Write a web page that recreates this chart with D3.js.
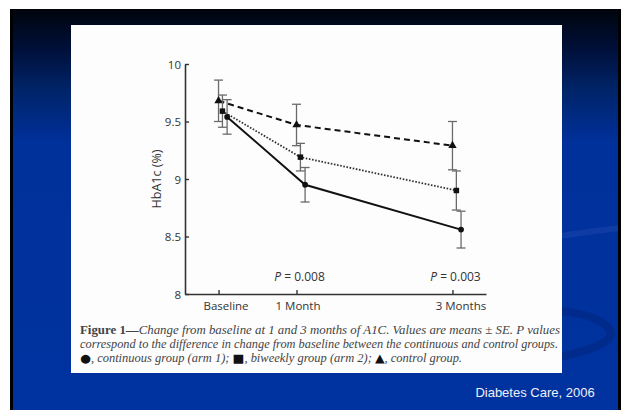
<!DOCTYPE html>
<html>
<head>
<meta charset="utf-8">
<script src="https://cdn.jsdelivr.net/npm/d3@7"></script>
<style>
  body { margin: 0; background: #fff; }
  svg { display: block; }
</style>
</head>
<body>
<div id="slide"></div>
<script>
// Chart values
var months = [0, 1, 3];
var monthLabels = ["Baseline", "1 Month", "3 Months"];
var yTicks = [8, 8.5, 9, 9.5, 10];
var yTickLabels = ["8", "8.5", "9", "9.5", "10"];

var controlMean = [9.68, 9.47, 9.29];
var controlSE = [0.18, 0.18, 0.21];
var biweeklyMean = [9.59, 9.19, 8.90];
var biweeklySE = [0.14, 0.12, 0.17];
var continuousMean = [9.54, 8.95, 8.56];
var continuousSE = [0.15, 0.15, 0.16];

var pMonths = [1, 3];
var pValues = ["0.008", "0.003"];

// Set the dimensions of the slide
var w = 621, h = 410;

var svg = d3.select("#slide")
  .append("svg")
    .attr("width", w)
    .attr("height", h);

/* ---------------------------------------- Slide background ---------------------------------------- */
var defs = svg.append("defs");
var grad = defs.append("linearGradient")
    .attr("id", "bg")
    .attr("x1", 0).attr("y1", 0).attr("x2", 0).attr("y2", 1);
grad.append("stop").attr("offset", "0%").attr("stop-color", "#00040c");
grad.append("stop").attr("offset", "10%").attr("stop-color", "#00103a");
grad.append("stop").attr("offset", "20%").attr("stop-color", "#002468");
grad.append("stop").attr("offset", "33%").attr("stop-color", "#00309a");
grad.append("stop").attr("offset", "100%").attr("stop-color", "#0033a0");

svg.append("rect")
    .attr("x", 10).attr("y", 9)
    .attr("width", w - 10).attr("height", h - 9)
    .attr("fill", "url(#bg)");

// faint swooshes at the lower right
svg.append("path")
    .attr("d", "M330,330 C420,250 560,235 621,228")
    .attr("fill", "none").attr("stroke", "#3a5cc0").attr("stroke-width", 6).attr("opacity", 0.25);
svg.append("path")
    .attr("d", "M360,360 C470,300 590,300 610,330 C620,345 560,360 520,362")
    .attr("fill", "none").attr("stroke", "#00247a").attr("stroke-width", 8).attr("opacity", 0.5);

// black edges of the slide
svg.append("rect").attr("x", 10).attr("y", 9).attr("width", 3).attr("height", h - 9).attr("fill", "#000");
svg.append("rect").attr("x", 618).attr("y", 9).attr("width", 3).attr("height", h - 9).attr("fill", "#000");

// white figure panel
svg.append("rect")
    .attr("x", 71).attr("y", 25)
    .attr("width", 491).attr("height", 348)
    .attr("fill", "#fdfdfd");

/* ---------------------------------------- Line chart ---------------------------------------- */
var xScale = d3.scaleLinear().domain([-0.43, 3.43]).range([185, 486]);
var yScale = d3.scaleLinear().domain([8, 10]).range([294, 64]);

var chart = svg.append("g");

// Define X, Y axis
var yAxis = d3.axisLeft(yScale)
    .tickValues(yTicks)
    .tickFormat(function(d, i) { return yTickLabels[i]; })
    .tickSizeInner(-4).tickSizeOuter(0).tickPadding(4);
var xAxis = d3.axisBottom(xScale)
    .tickValues(months)
    .tickFormat(function(d, i) { return monthLabels[i]; })
    .tickSizeInner(-4).tickSizeOuter(0).tickPadding(8);

var gy = chart.append("g").attr("transform", "translate(" + xScale.range()[0] + ",0)").call(yAxis);
var gx = chart.append("g").attr("transform", "translate(0," + yScale(8) + ")").call(xAxis);

[gx, gy].forEach(function(g) {
  g.select(".domain").attr("stroke", "#333").attr("stroke-width", 1.6);
  g.selectAll(".tick line").attr("stroke", "#333").attr("stroke-width", 1.4);
  g.selectAll(".tick text")
    .attr("fill", "#333")
    .style("font-family", "'Open Sans', sans-serif")
    .style("font-size", "11.5px");
});
gy.selectAll(".tick text").attr("dy", "0.36em");
var labelShift = [7, 1, 8];
gx.selectAll(".tick text").attr("dx", function(d, i) { return labelShift[i]; });

// Y axis title
chart.append("text")
    .attr("transform", "translate(161," + yScale(9) + ") rotate(-90)")
    .attr("text-anchor", "middle")
    .attr("fill", "#333")
    .style("font-family", "'Open Sans', sans-serif")
    .style("font-size", "12.5px")
    .text("HbA1c (%)");

// Series: control (dashed, triangle), biweekly (dotted, square), continuous (solid, circle)
var series = [
  { mean: controlMean, se: controlSE, shift: 0, dash: "6,4", width: 2, color: "#111", symbol: d3.symbolTriangle, size: 30 },
  { mean: biweeklyMean, se: biweeklySE, shift: 0.05, dash: "1.6,1.6", width: 1.8, color: "#333", symbol: d3.symbolSquare, size: 30 },
  { mean: continuousMean, se: continuousSE, shift: 0.11, dash: null, width: 2, color: "#111", symbol: d3.symbolCircle, size: 26 }
];

series.forEach(function(s) {
  var pts = months.map(function(m, i) { return { x: m + s.shift, y: s.mean[i], se: s.se[i] }; });

  // Create error bars
  var eb = chart.append("g").attr("stroke", "#6a6a6a").attr("stroke-width", 1.3);
  eb.selectAll("line.bar").data(pts).enter().append("line")
    .attr("x1", function(d) { return xScale(d.x); })
    .attr("x2", function(d) { return xScale(d.x); })
    .attr("y1", function(d) { return yScale(d.y + d.se); })
    .attr("y2", function(d) { return yScale(d.y - d.se); });
  eb.selectAll("line.top").data(pts).enter().append("line")
    .attr("x1", function(d) { return xScale(d.x) - 4.5; })
    .attr("x2", function(d) { return xScale(d.x) + 4.5; })
    .attr("y1", function(d) { return yScale(d.y + d.se); })
    .attr("y2", function(d) { return yScale(d.y + d.se); });
  eb.selectAll("line.bottom").data(pts).enter().append("line")
    .attr("x1", function(d) { return xScale(d.x) - 4.5; })
    .attr("x2", function(d) { return xScale(d.x) + 4.5; })
    .attr("y1", function(d) { return yScale(d.y - d.se); })
    .attr("y2", function(d) { return yScale(d.y - d.se); });

  // Create line
  chart.append("path")
    .datum(pts)
    .attr("fill", "none")
    .attr("stroke", s.color)
    .attr("stroke-width", s.width)
    .attr("stroke-dasharray", s.dash)
    .attr("d", d3.line().x(function(d) { return xScale(d.x); }).y(function(d) { return yScale(d.y); }));

  // Create markers
  chart.selectAll(null).data(pts).enter().append("path")
    .attr("transform", function(d) { return "translate(" + xScale(d.x) + "," + yScale(d.y) + ")"; })
    .attr("d", d3.symbol().type(s.symbol).size(s.size))
    .attr("fill", "#111");
});

// P values
chart.selectAll(null).data(pMonths).enter().append("text")
    .attr("x", function(d) { return xScale(d) + 3; })
    .attr("y", 281)
    .attr("text-anchor", "middle")
    .attr("fill", "#333")
    .style("font-family", "'Open Sans', sans-serif")
    .style("font-size", "12px")
    .each(function(d, i) {
      var t = d3.select(this);
      t.append("tspan").style("font-style", "italic").text("P");
      t.append("tspan").text(" = " + pValues[i]);
    });

/* ---------------------------------------- Caption ---------------------------------------- */
var cap = svg.append("g")
    .attr("fill", "#444")
    .style("font-family", "'Liberation Serif', serif")
    .style("font-size", "11.5px");

var l1 = cap.append("text").attr("x", 80).attr("y", 334).attr("textLength", 480).attr("lengthAdjust", "spacingAndGlyphs");
l1.append("tspan").style("font-weight", "bold").text("Figure 1\u2014");
l1.append("tspan").style("font-style", "italic").text("Change from baseline at 1 and 3 months of A1C. Values are means \u00b1 SE. P values");

cap.append("text").attr("x", 80).attr("y", 348).attr("textLength", 478).attr("lengthAdjust", "spacingAndGlyphs")
    .style("font-style", "italic")
    .text("correspond to the difference in change from baseline between the continuous and control groups.");

var l3 = cap.append("text").attr("x", 80).attr("y", 362).attr("textLength", 382).attr("lengthAdjust", "spacingAndGlyphs");
l3.append("tspan").attr("fill", "#111").style("font-family", "'DejaVu Sans', sans-serif").text("\u25cf");
l3.append("tspan").style("font-style", "italic").text(", continuous group (arm 1); ");
l3.append("tspan").attr("fill", "#111").style("font-family", "'DejaVu Sans', sans-serif").text("\u25a0");
l3.append("tspan").style("font-style", "italic").text(", biweekly group (arm 2); ");
l3.append("tspan").attr("fill", "#111").style("font-family", "'DejaVu Sans', sans-serif").text("\u25b2");
l3.append("tspan").style("font-style", "italic").text(", control group.");

// Source note
svg.append("text")
    .attr("x", 535).attr("y", 397)
    .attr("text-anchor", "middle")
    .attr("fill", "#f0f0f8")
    .style("font-family", "'Liberation Sans', Arial, sans-serif")
    .style("font-size", "13px")
    .text("Diabetes Care, 2006");
</script>
</body>
</html>
